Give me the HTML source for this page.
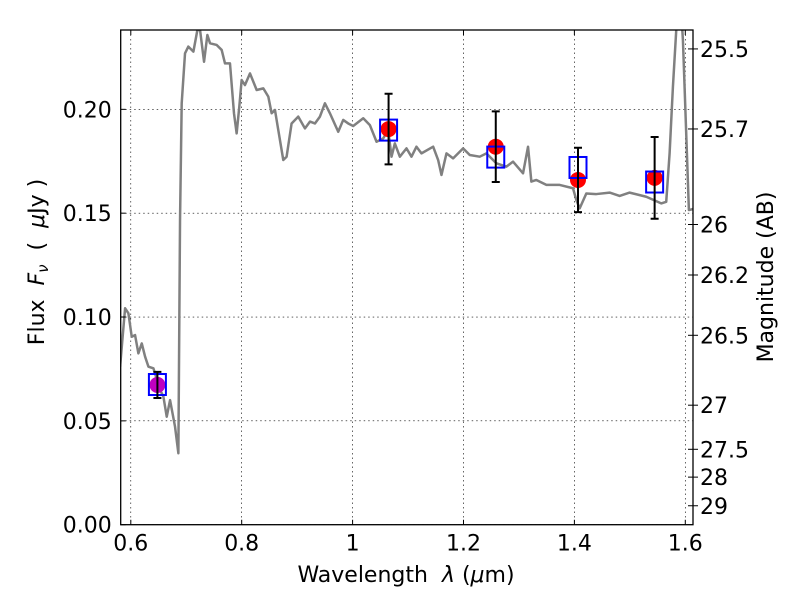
<!DOCTYPE html>
<html><head><meta charset="utf-8"><style>
html,body{margin:0;padding:0;background:#fff}
text{font-family:"DejaVu Sans","Liberation Sans",sans-serif;font-size:22px;fill:#000}
</style></head><body>
<svg id="chart" width="800" height="600" viewBox="0 0 800 600" xmlns="http://www.w3.org/2000/svg">
<rect width="800" height="600" fill="#fff"/>
<g id="grid"></g>
<g id="plot"></g>
<g id="axes"></g>
<text x="406" y="582" text-anchor="middle">Wavelength&#160;&#160;<tspan font-style="italic">λ</tspan>&#160;(<tspan font-style="italic">μ</tspan>m)</text>
<text transform="translate(44,262) rotate(-90)" text-anchor="middle">Flux&#160;&#160;<tspan font-style="italic">F<tspan font-size="15" dy="4">ν</tspan></tspan><tspan dy="-4">&#160;&#160;(&#160;&#160;</tspan><tspan font-style="italic">μ</tspan>Jy&#160;)</text>
<text transform="translate(773,277) rotate(-90)" text-anchor="middle">Magnitude (AB)</text>
</svg>
<script>
const specWave=[0.5807,0.5897,0.5957,0.6017,0.6077,0.6137,0.6198,0.6258,0.6318,0.6408,0.6528,0.6588,0.6648,0.6708,0.6798,0.6858,0.6888,0.6918,0.6978,0.7038,0.7129,0.7201,0.7249,0.7321,0.7381,0.7429,0.7549,0.7639,0.7699,0.7789,0.7861,0.7909,0.7957,0.7999,0.8059,0.8150,0.8270,0.8390,0.8480,0.8540,0.8600,0.8660,0.8750,0.8810,0.8900,0.9020,0.9141,0.9231,0.9321,0.9411,0.9501,0.9591,0.9741,0.9831,0.9921,1.0011,1.0192,1.0312,1.0432,1.0552,1.0642,1.0702,1.0762,1.0852,1.0972,1.1062,1.1152,1.1242,1.1453,1.1543,1.1603,1.1693,1.1813,1.1993,1.2113,1.2293,1.2414,1.2594,1.2774,1.2894,1.3074,1.3164,1.3224,1.3314,1.3495,1.3735,1.3975,1.4035,1.4095,1.4215,1.4396,1.4636,1.4816,1.4996,1.5296,1.5566,1.5656,1.5717,1.5777,1.5837,1.5915,1.5957,1.5987,1.6065,1.6140];
const specFlux=[0.0761,0.1042,0.1018,0.0905,0.0913,0.0825,0.0873,0.0809,0.0761,0.0753,0.0649,0.0617,0.0520,0.0600,0.0472,0.0344,0.1467,0.2029,0.2270,0.2302,0.2278,0.2382,0.2382,0.2229,0.2358,0.2318,0.2310,0.2286,0.2221,0.2221,0.1981,0.1884,0.2013,0.2141,0.2117,0.2173,0.2093,0.2101,0.2061,0.1981,0.1997,0.1900,0.1756,0.1772,0.1932,0.1965,0.1908,0.1941,0.1932,0.1965,0.2029,0.1981,0.1892,0.1949,0.1932,0.1920,0.1957,0.1924,0.1844,0.1860,0.1900,0.1772,0.1836,0.1772,0.1812,0.1772,0.1820,0.1788,0.1820,0.1756,0.1684,0.1788,0.1764,0.1812,0.1780,0.1772,0.1788,0.1740,0.1724,0.1748,0.1692,0.1820,0.1652,0.1660,0.1636,0.1636,0.1620,0.1563,0.1523,0.1595,0.1592,0.1599,0.1583,0.1599,0.1579,0.1547,0.1555,0.1788,0.2109,0.2382,0.2526,0.2334,0.2109,0.1515,0.1520];
const obsWave=[0.648,1.0649,1.2582,1.4065,1.5447];
const obsFlux=[0.0673,0.1905,0.182,0.166,0.167];
const obsErr=[0.0063,0.017,0.017,0.0155,0.0197];
const obsColor=['#bf00bf','#ff0000','#ff0000','#ff0000','#ff0000'];
const modelFlux=[0.0675,0.190,0.177,0.172,0.165];
const xTicks=[0.6,0.8,1.0,1.2,1.4,1.6];
const xTickLabels=['0.6','0.8','1','1.2','1.4','1.6'];
const yTicks=[0,0.05,0.10,0.15,0.20];
const yTickLabels=['0.00','0.05','0.10','0.15','0.20'];
const magTicks=[25.5,25.7,26,26.2,26.5,27,27.5,28,29];
const magTickLabels=['25.5','25.7','26','26.2','26.5','27','27.5','28','29'];

const L=120.7,R=693,T=30,B=524.7;
const xmin=0.5818,xmax=1.6139,ymin=0,ymax=0.2382;
const X=v=>L+(v-xmin)/(xmax-xmin)*(R-L);
const Y=v=>B-(v-ymin)/(ymax-ymin)*(B-T);
const magToFlux=m=>Math.pow(10,(23.9-m)/2.5);
const NS='http://www.w3.org/2000/svg';
function mk(tag,attrs,parent){const e=document.createElementNS(NS,tag);for(const k in attrs)e.setAttribute(k,attrs[k]);parent.appendChild(e);return e;}
const svg=document.getElementById('chart');
const grid=document.getElementById('grid'),plot=document.getElementById('plot'),axes=document.getElementById('axes');

const defs=mk('defs',{},svg);
const cp=mk('clipPath',{id:'clip'},defs);
mk('rect',{x:L,y:T,width:R-L,height:B-T},cp);
plot.setAttribute('clip-path','url(#clip)');

xTicks.forEach((t,i)=>{
  const g=mk('line',{x1:X(t),x2:X(t),y1:T,y2:B,stroke:'#000','stroke-width':0.6,'stroke-dasharray':'1.5,3'},grid);
  
  
  const tk=mk('path',{d:`M${X(t)},${B}v-5M${X(t)},${T}v5`,stroke:'#000','stroke-width':1},axes);
  
  
  const lb=mk('text',{x:X(t),y:B+26,'text-anchor':'middle'},axes);
  lb.textContent=xTickLabels[i];
  
  
});
yTicks.forEach((t,i)=>{
  const g=mk('line',{x1:L,x2:R,y1:Y(t),y2:Y(t),stroke:'#000','stroke-width':0.6,'stroke-dasharray':'1.5,3'},grid);
  
  
  const tk=mk('path',{d:`M${L},${Y(t)}h5`,stroke:'#000','stroke-width':1},axes);
  
  
  const lb=mk('text',{x:L-9,y:Y(t)+8,'text-anchor':'end'},axes);
  lb.textContent=yTickLabels[i];
  
  
});
magTicks.forEach((m,i)=>{
  const y=Y(magToFlux(m));
  const tk=mk('path',{d:`M${R-5},${y}h10`,stroke:'#000','stroke-width':1},axes);
  
  
  const lb=mk('text',{x:R+7,y:y+8,'text-anchor':'start'},axes);
  lb.textContent=magTickLabels[i];
  
  
});

const line=mk('polyline',{points:specWave.map((w,i)=>X(w)+','+Y(specFlux[i])).join(' '),fill:'none',stroke:'#808080','stroke-width':2.5,'stroke-linejoin':'round'},plot);



obsWave.forEach((w,i)=>{
  const x=X(w);
  const c=mk('circle',{cx:x,cy:Y(obsFlux[i]),r:8,fill:obsColor[i]},plot);
  
  
  const bx=mk('rect',{x:x-8.5,y:Y(modelFlux[i])-10.5,width:17,height:21,fill:'none',stroke:'#0000ff','stroke-width':2},plot);
  
  
  const y1=Y(obsFlux[i]+obsErr[i]),y2=Y(obsFlux[i]-obsErr[i]);
  const eb=mk('path',{d:`M${x},${y1}V${y2}M${x-4},${y1}h8M${x-4},${y2}h8`,stroke:'#000','stroke-width':2},plot);
  
  
});

const fr=mk('rect',{x:L,y:T,width:R-L,height:B-T,fill:'none',stroke:'#000','stroke-width':1.3},axes);


</script>
</body></html>
